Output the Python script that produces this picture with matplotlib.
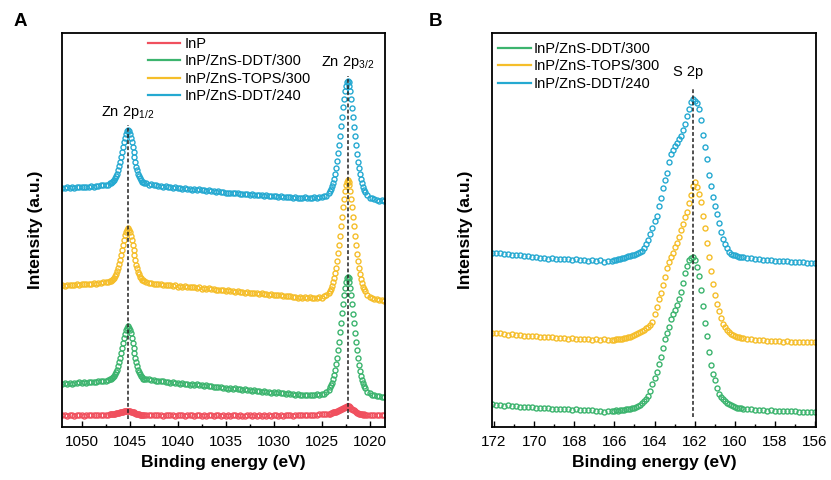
import numpy as np
import matplotlib
matplotlib.use("Agg")
import matplotlib.pyplot as plt
from matplotlib.lines import Line2D
from matplotlib.ticker import MultipleLocator

plt.rcParams["font.family"] = "Liberation Sans"
plt.rcParams["mathtext.fontset"] = "custom"
plt.rcParams["mathtext.rm"] = "Liberation Sans"
plt.rcParams["mathtext.it"] = "Liberation Sans:italic"
plt.rcParams["mathtext.bf"] = "Liberation Sans:bold"

# ---------------- Zn 2p (panel A) ----------------
# energy grid of the scan (eV), finer across the two peaks
zn_energy = np.concatenate([
    np.linspace(1052.0, 1047.0, 21),
    np.linspace(1046.9, 1043.5, 35),
    np.linspace(1043.25, 1024.25, 77),
    np.linspace(1024.1, 1020.5, 37),
    np.linspace(1020.25, 1018.5, 8),
])

zn_inp = [
    11.6, 12.2, 11.5, 12.0, 11.8, 11.4, 12.1, 11.7, 12.0, 11.5, 11.9, 12.2, 11.7, 12.0, 11.8, 12.1, 11.9, 12.2, 12.3, 12.5, 12.8,
    12.6, 13.1, 13.0, 13.5, 13.3, 13.9, 13.7, 14.4, 14.2, 14.8, 14.7, 15.3, 15.2, 15.9, 15.7, 16.4, 16.1, 16.5,
    16.2, 16.2, 15.5, 15.5, 14.7, 14.7, 13.9, 13.9, 13.2, 13.3, 12.7, 12.9, 12.3, 12.5, 12.0, 12.3, 11.8,
    11.9, 12.2, 11.7, 12.0, 11.6, 11.9, 12.1, 11.5, 11.8, 12.0, 11.6, 11.9, 11.4, 11.8, 12.1, 11.7, 11.5, 11.9, 11.6, 12.0,
    11.4, 11.7, 11.9, 11.5, 11.8, 11.3, 11.7, 12.0, 11.5, 11.6, 11.9, 11.4, 11.7, 11.5, 11.8, 11.3, 11.6, 11.9, 11.4, 11.7,
    11.5, 11.2, 11.6, 11.8, 11.4, 11.7, 11.3, 11.6, 11.5, 11.8, 11.4, 11.7, 11.3, 11.6, 11.9, 11.5, 11.7, 11.4, 11.8, 11.6,
    11.9, 11.5, 11.8, 12.0, 11.7, 12.1, 11.9, 12.2, 12.0, 12.3, 12.4, 12.3, 12.6, 12.7, 12.9, 13.1, 13.4,
    13.4, 13.9, 13.8, 14.6, 14.6, 15.3, 15.4, 16.2, 16.2, 17.1, 17.1, 18.0, 18.2, 19.1, 19.3, 20.2, 20.3, 20.9, 20.8,
    20.7, 19.9, 19.6, 18.5, 18.2, 17.0, 16.7, 15.6, 15.3, 14.4, 14.3, 13.5, 13.5, 12.8, 13.0, 12.4, 12.6, 12.1,
    12.1, 11.8, 12.2, 11.7, 12.0, 11.6, 11.9, 11.8,
]

zn_ddt300 = [
    43.3, 44.0, 43.4, 44.0, 43.5, 44.5, 44.2, 44.8, 44.2, 44.8, 44.4, 45.4, 44.9, 45.3, 45.2, 46.1, 45.9, 46.4, 46.2, 47.4, 48.0,
    48.1, 48.9, 49.6, 51.1, 52.7, 55.0, 57.4, 60.9, 64.6, 69.1, 73.7, 79.0, 84.0, 89.2, 93.4, 97.2, 99.4, 100.6,
    99.5, 97.0, 93.6, 89.0, 84.1, 78.7, 73.8, 68.7, 64.6, 60.6, 57.4, 54.6, 52.7, 50.7, 49.6, 48.5, 47.9,
    48.0, 47.9, 46.7, 46.7, 45.8, 46.3, 45.6, 45.8, 44.8, 45.1, 44.5, 44.8, 43.9, 44.0, 43.1, 43.8, 43.1, 43.4, 42.5, 42.9,
    42.2, 42.6, 41.7, 41.9, 41.1, 41.6, 41.0, 41.2, 40.3, 40.5, 39.9, 40.2, 39.3, 39.4, 38.5, 39.1, 38.4, 38.8, 37.8, 38.1,
    37.4, 37.8, 36.8, 37.1, 36.2, 36.8, 36.1, 36.4, 35.4, 35.7, 35.0, 35.5, 34.5, 34.8, 34.0, 34.6, 33.9, 34.2, 33.3, 33.6,
    33.0, 33.4, 32.5, 32.7, 31.8, 32.5, 32.1, 32.5, 31.7, 32.2, 31.9, 32.6, 32.2, 33.0, 33.1, 35.0, 36.8,
    39.6, 41.7, 44.4, 47.8, 51.8, 56.8, 62.6, 69.4, 77.1, 85.5, 94.6, 104.0, 113.6, 123.0, 131.7, 139.1, 144.9, 148.6, 149.9,
    148.6, 144.8, 139.0, 131.6, 122.8, 113.4, 103.8, 94.2, 85.1, 76.7, 68.9, 62.1, 56.3, 51.2, 47.1, 43.7, 40.9, 38.8,
    35.3, 33.8, 32.2, 31.8, 30.7, 30.8, 29.9, 29.8,
]

zn_tops300 = [
    141.8, 141.5, 142.3, 141.6, 142.4, 142.3, 142.8, 142.2, 143.2, 142.6, 143.1, 142.8, 143.5, 143.8, 143.5, 144.0, 143.8, 144.7, 144.7, 145.5, 146.2,
    146.2, 146.7, 147.8, 148.9, 150.9, 152.8, 155.6, 158.7, 162.8, 166.9, 171.9, 176.8, 182.2, 187.0, 191.6, 195.0, 197.5, 198.8,
    197.4, 195.2, 191.4, 187.2, 181.9, 176.9, 171.6, 166.9, 162.4, 158.8, 155.2, 152.8, 150.5, 148.9, 147.4, 146.7, 145.7,
    145.2, 144.1, 144.3, 143.0, 143.4, 142.8, 142.9, 141.9, 142.5, 141.6, 141.8, 141.2, 141.7, 140.5, 140.9, 140.5, 140.6, 139.8, 140.5, 139.7,
    139.7, 139.1, 139.6, 138.5, 139.1, 138.5, 138.7, 137.7, 138.4, 137.4, 137.5, 136.8, 137.4, 136.2, 136.6, 136.1, 136.3, 135.4, 136.0, 135.1,
    135.1, 134.5, 134.9, 133.9, 134.3, 133.8, 133.9, 133.0, 133.6, 132.7, 132.7, 132.2, 132.6, 131.6, 132.1, 131.6, 131.7, 130.7, 131.5, 130.6,
    130.6, 130.0, 130.5, 129.4, 129.8, 129.4, 129.8, 128.9, 129.8, 129.1, 129.4, 129.1, 130.0, 129.5, 130.8, 131.6, 134.2,
    136.4, 138.5, 141.2, 144.6, 148.6, 153.6, 159.4, 166.2, 173.9, 182.3, 191.4, 200.8, 210.4, 219.8, 228.5, 235.9, 241.7, 245.4, 246.7,
    245.4, 241.6, 235.8, 228.4, 219.6, 210.2, 200.6, 191.0, 181.9, 173.5, 165.7, 158.9, 153.1, 148.0, 143.9, 140.5, 137.7, 135.6,
    132.4, 130.0, 129.5, 128.1, 128.0, 127.0, 127.1, 126.3,
]

zn_ddt240 = [
    239.3, 238.7, 239.7, 239.2, 239.6, 239.2, 240.2, 239.8, 240.3, 239.7, 240.5, 240.1, 241.1, 240.5, 241.1, 240.8, 241.8, 241.6, 242.3, 242.3, 243.6,
    244.1, 244.8, 245.7, 247.0, 248.8, 250.9, 253.5, 256.8, 260.7, 265.0, 269.8, 274.9, 280.1, 285.1, 289.5, 293.1, 295.8, 297.0,
    295.8, 293.1, 289.5, 285.1, 280.0, 274.8, 269.7, 264.8, 260.5, 256.7, 253.3, 250.7, 248.6, 246.8, 245.5, 244.6, 243.8,
    243.7, 242.3, 242.7, 241.6, 241.6, 240.7, 241.3, 240.5, 240.6, 239.7, 240.2, 239.2, 239.9, 238.9, 238.9, 238.2, 238.8, 238.1, 238.3, 237.5,
    237.9, 237.0, 237.7, 236.8, 236.9, 236.0, 236.7, 235.9, 236.1, 235.1, 235.6, 234.6, 235.3, 234.3, 234.4, 233.6, 234.3, 233.7, 233.9, 233.0,
    233.5, 232.6, 233.3, 232.5, 232.6, 231.8, 232.5, 231.8, 232.0, 231.1, 231.6, 230.8, 231.5, 230.7, 230.9, 230.1, 230.8, 230.1, 230.4, 229.6,
    230.1, 229.3, 230.0, 229.2, 229.3, 228.6, 229.6, 229.0, 229.4, 228.8, 229.6, 229.0, 230.1, 229.8, 230.7, 231.2, 234.2,
    236.2, 238.3, 241.0, 244.4, 248.4, 253.4, 259.2, 266.0, 273.7, 282.1, 291.2, 300.6, 310.2, 319.6, 328.3, 335.7, 341.5, 345.2, 346.5,
    345.2, 341.4, 335.6, 328.2, 319.4, 310.0, 300.4, 290.8, 281.7, 273.3, 265.5, 258.7, 252.9, 247.8, 243.7, 240.3, 237.5, 235.4,
    232.0, 229.5, 229.0, 227.6, 227.5, 226.5, 226.7, 225.8,
]

zn_peaks = [1045.2, 1022.3]
zn_peak_labels = [r"Zn 2p$_{1/2}$", r"Zn 2p$_{3/2}$"]

# ---------------- S 2p (panel B) ----------------
s_energy = np.concatenate([
    np.linspace(172.1, 166.1, 31),
    np.linspace(166.0, 159.6, 65),
    np.linspace(159.4, 156.0, 18),
])

s_ddt300 = [
    22.8, 22.0, 22.3, 21.4, 21.7, 20.8, 21.0, 20.2, 20.5, 19.7, 19.9, 19.2, 19.5, 18.8, 19.0, 18.5, 18.2, 18.5, 17.8, 18.0,
    17.4, 17.7, 17.0, 17.3, 16.6, 16.9, 16.2, 16.5, 15.5, 15.9, 16.2,
    16.3, 16.6, 16.2, 16.8, 17.0, 17.2, 17.6, 18.0, 18.4, 18.8,
    19.5, 20.3, 21.2, 22.5, 23.8, 25.8, 28.0, 31.0, 36.5, 43.5,
    48.7, 55.5, 63.5, 70.5, 79.5, 88.5, 94.5, 100.3, 108.0, 113.0,
    117.5, 122.5, 128.0, 135.3, 144.5, 154.5, 161.5, 167.0, 169.5, 170.3,
    167.5, 160.5, 151.5, 137.0, 121.5, 104.0, 91.5, 75.0, 62.0, 53.0,
    47.0, 39.5, 33.3, 30.0, 27.8, 25.8, 24.0, 22.8, 21.8, 20.8,
    20.0, 19.5, 19.0, 18.7, 18.3,
    17.9, 17.6, 17.2, 17.4, 16.8, 16.4, 16.7, 16.1, 16.4, 15.9, 16.2, 15.6, 15.8, 15.2, 15.5, 14.8, 15.1, 14.6,
]

s_tops300 = [
    94.5, 93.6, 93.8, 93.0, 92.4, 92.8, 91.9, 92.2, 91.3, 91.5, 90.8, 91.0, 90.2, 90.5, 89.7, 90.0, 89.3, 89.0, 89.4, 88.5,
    88.8, 88.0, 88.4, 87.6, 88.0, 87.3, 87.8, 87.2, 87.6, 87.0, 87.4,
    87.5, 87.8, 87.6, 88.0, 88.4, 88.6, 89.2, 89.8, 90.3, 91.0,
    91.8, 92.8, 94.0, 95.0, 96.3, 97.5, 99.0, 100.5, 102.0, 105.5,
    113.5, 120.0, 127.7, 134.0, 142.0, 150.0, 159.0, 165.0, 170.0, 174.5,
    180.0, 184.0, 190.0, 197.0, 203.0, 210.5, 215.5, 224.5, 232.0, 241.0,
    245.0, 240.0, 233.5, 225.0, 211.0, 199.0, 184.5, 170.2, 156.0, 143.5,
    132.0, 123.0, 116.3, 109.5, 103.5, 99.8, 97.2, 95.3, 93.5, 92.3,
    91.5, 90.4, 89.8, 89.3, 88.8,
    88.3, 87.8, 87.4, 87.0, 86.7, 86.0, 86.4, 85.6, 85.9, 85.2, 85.7, 85.0, 85.5, 84.9, 85.4, 85.0, 85.3, 85.0,
]

s_ddt240 = [
    174.5, 174.0, 173.8, 173.0, 173.2, 172.4, 172.0, 171.6, 170.8, 170.9, 170.0, 169.8, 169.0, 169.3, 168.5, 168.7, 168.0, 168.4, 167.6, 168.0,
    167.2, 167.6, 166.8, 167.4, 166.5, 166.9, 166.0, 166.6, 165.4, 165.6, 166.2,
    166.8, 167.2, 167.6, 168.2, 168.8, 169.5, 170.2, 170.8, 171.2, 171.7,
    172.3, 173.0, 173.7, 175.0, 176.3, 178.8, 182.7, 187.5, 193.0, 199.5,
    206.0, 211.0, 221.0, 229.0, 239.3, 247.0, 253.7, 265.3, 273.0, 276.7,
    280.6, 284.5, 287.8, 291.5, 297.5, 303.5, 310.7, 318.1, 325.0, 328.5,
    326.5, 324.0, 317.7, 307.0, 292.0, 280.0, 268.0, 252.0, 241.5, 229.8,
    221.0, 212.6, 204.0, 195.0, 188.3, 183.5, 179.0, 175.0, 173.3, 172.3,
    171.8, 171.0, 170.5, 170.3, 170.0,
    169.5, 169.0, 168.5, 168.2, 167.5, 167.3, 167.0, 166.2, 166.4, 165.6, 165.8, 165.0, 165.3, 164.6, 164.8, 164.2, 164.0, 163.8,
]

s_peak = 162.1

red = "#f0505e"
green = "#3cb46e"
yellow = "#f5be2a"
blue = "#25a9d1"

fig = plt.figure(figsize=(8.31, 4.8), dpi=100)
axA = fig.add_axes([62 / 831, 53 / 480, 323 / 831, 394 / 480])
axB = fig.add_axes([492 / 831, 53 / 480, 324 / 831, 394 / 480])


def spectrum(ax, x, y, color):
    ax.plot(x, y, "o", ms=3.6, mfc="none", mec=color, mew=1.0)


def style(ax, xlim, major, minor):
    ax.set_xlim(*xlim)
    ax.set_ylim(0, 394)
    ax.set_yticks([])
    ax.xaxis.set_major_locator(MultipleLocator(major))
    ax.xaxis.set_minor_locator(MultipleLocator(minor))
    ax.tick_params(axis="x", which="both", direction="in", labelsize=11, width=1)
    ax.tick_params(axis="x", which="major", length=4, pad=6)
    ax.tick_params(axis="x", which="minor", length=2.5)
    for s in ax.spines.values():
        s.set_linewidth(1.3)
    ax.set_xlabel("Binding energy (eV)", fontsize=12.5, fontweight="bold", labelpad=4)
    ax.set_ylabel("Intensity (a.u.)", fontsize=12.5, fontweight="bold", labelpad=14)


# Panel A
spectrum(axA, zn_energy, zn_inp, red)
spectrum(axA, zn_energy, zn_ddt300, green)
spectrum(axA, zn_energy, zn_tops300, yellow)
spectrum(axA, zn_energy, zn_ddt240, blue)
for pk, lab in zip(zn_peaks, zn_peak_labels):
    top = np.interp(pk, zn_energy[::-1], np.array(zn_ddt240)[::-1]) + 5
    axA.plot([pk, pk], [8, top], color="#222222", lw=1.1, ls=(0, (2.5, 1.5)))
    axA.annotate(lab, xy=(pk, top), xytext=(0, 3), textcoords="offset points",
                 ha="center", va="bottom", fontsize=10.5)
style(axA, (1052.05, 1018.4), 5, 2.5)
handles = [Line2D([], [], color=c, lw=1.6) for c in [red, green, yellow, blue]]
axA.legend(handles, ["InP", "InP/ZnS-DDT/300", "InP/ZnS-TOPS/300", "InP/ZnS-DDT/240"],
           loc="upper left", bbox_to_anchor=(0.266, 0.99), frameon=False, fontsize=10.5,
           handlelength=2.2, handletextpad=0.3, labelspacing=0.23, borderpad=0, borderaxespad=0)

# Panel B
spectrum(axB, s_energy, s_ddt300, green)
spectrum(axB, s_energy, s_tops300, yellow)
spectrum(axB, s_energy, s_ddt240, blue)
top = max(s_ddt240) + 10
axB.plot([s_peak, s_peak], [10, top], color="#222222", lw=1.1, ls=(0, (2.5, 1.5)))
axB.annotate("S 2p", xy=(s_peak, top), xytext=(-3, 7), textcoords="offset points",
             ha="center", va="bottom", fontsize=10.5)
style(axB, (172.1, 155.95), 2, 1)
axB.legend(handles[1:], ["InP/ZnS-DDT/300", "InP/ZnS-TOPS/300", "InP/ZnS-DDT/240"],
           loc="upper left", bbox_to_anchor=(0.0185, 0.977), frameon=False, fontsize=10.5,
           handlelength=2.25, handletextpad=0.2, labelspacing=0.23, borderpad=0, borderaxespad=0)

fig.text(20.5 / 831, 1 - 21.5 / 480, "A", fontsize=13.5, fontweight="bold", ha="center", va="center")
fig.text(436 / 831, 1 - 21.5 / 480, "B", fontsize=13.5, fontweight="bold", ha="center", va="center")

fig.savefig("out.png", dpi=100)
